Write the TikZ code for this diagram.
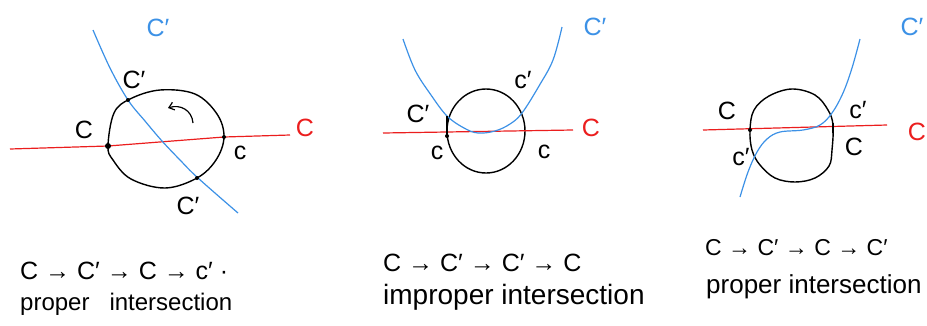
\documentclass[tikz,border=0pt]{standalone}
\usepackage{fontspec}
\setmainfont{Liberation Sans}
\usetikzlibrary{arrows.meta}
\definecolor{cblue}{RGB}{60,145,230}
\definecolor{cred}{RGB}{235,30,30}
\tikzset{
  curveC/.style={cred, line width=1.2pt},
  curveD/.style={cblue, line width=1.2pt},
  ring/.style={black, line width=1.4pt},
  lab/.style={font=\fontsize{25}{25}\selectfont, inner sep=0pt},
  bluelab/.style={lab, text=cblue},
  redlab/.style={lab, text=cred},
  caption/.style={inner sep=0pt, anchor=west},
  pt/.style={circle, fill=black, inner sep=0pt, minimum size=4pt},
}
\newcommand{\fs}[1]{\fontsize{#1}{#1}\selectfont}
\begin{document}
\begin{tikzpicture}[x=1pt,y=-1pt]
\useasboundingbox (0,0) rectangle (927,325);

% ---------- panel 1 ----------
\draw[ring] plot[smooth cycle, tension=0.6] coordinates {(108,146) (114,113) (130,99) (160,90) (195,94) (217,114) (224,137) (216,160) (197,178) (165,188) (131,179) (113,160)};
\draw[curveC] (10,149) -- (108,146) -- (224,137) -- (290,135);
\draw[curveD] plot[smooth, tension=0.6] coordinates {(93,30) (110,68) (128,100) (145,121) (162,141) (180,160) (198,178) (238,213)};
\draw[black, line width=1.2pt, -{Straight Barb[length=5pt,width=8pt]}] (193,123) .. controls (192,110) and (180,104) .. (168,108);
\node[pt, minimum size=6pt] (p1a) at (108,146) {};
\node[pt] (p1b) at (128,100) {};
\node[pt] (p1c) at (224,137) {};
\node[pt] (p1d) at (197,178) {};
\node[bluelab] (b1) at (158,28) {C′};
\node[redlab] (r1) at (305,128) {C};
\node[lab] (l1a) at (134,80) {C′};
\node[lab] (l1b) at (84,130) {C};
\node[lab] (l1c) at (240,153) {c};
\node[lab] (l1d) at (188,206) {C′};
\node[caption, font=\fs{25}] (t1a) at (20,271) {C → C′ → C → c′ ·};
\node[caption, font=\fs{24}] (t1b) at (20,304) {proper\ \ \ intersection};

% ---------- panel 2 ----------
\draw[ring] (486,131) ellipse [x radius=39, y radius=42];
\draw[curveC] (383,133) -- (573,130);
\draw[curveD] plot[smooth, tension=0.6] coordinates {(403,39) (415,70) (431,95) (447,116) (464,128) (478,133) (495,131) (510,124) (522,113) (539,86) (553,60) (562,27)};
\draw[black, line width=2.6pt] (447,116) -- (447,136);
\node[pt] (p2a) at (447,136) {};
\node[bluelab] (b2) at (595,27) {C′};
\node[redlab] (r2) at (591,128) {C};
\node[lab] (l2a) at (418,114) {C′};
\node[lab] (l2b) at (437,153) {c};
\node[lab] (l2c) at (523,80) {c′};
\node[lab] (l2d) at (544,152) {c};
\node[caption, font=\fs{25}] (t2a) at (383,263) {C → C′ → C′ → C};
\node[caption, font=\fs{28}] (t2b) at (383,297) {improper intersection};

% ---------- panel 3 ----------
\draw[ring] plot[smooth cycle, tension=0.6] coordinates {(750,130) (754,110) (769,96) (792,89) (815,95) (828,110) (833,125) (832,150) (829,166) (815,178) (795,182) (775,178) (760,165) (752,150)};
\draw[curveC] (703,130) -- (887,125);
\draw[curveD] plot[smooth, tension=0.6] coordinates {(740,197) (748,172) (757,152) (767,139) (780,132) (803,130) (820,125) (832,113) (843,93) (852,68) (860,39)};
\draw[black, line width=2.6pt] (833,123) -- (833,133);
\node[pt] (p3a) at (750,130) {};
\node[bluelab] (b3) at (912,27) {C′};
\node[redlab] (r3) at (917,132) {C};
\node[lab] (l3a) at (727,111) {C};
\node[lab] (l3b) at (741,157) {c′};
\node[lab] (l3c) at (858,110) {c′};
\node[lab] (l3d) at (854,147) {C};
\node[caption, font=\fs{23}] (t3a) at (705,248) {C → C′ → C → C′};
\node[caption, font=\fs{26}] (t3b) at (706,287) {proper intersection};
\end{tikzpicture}
\end{document}
